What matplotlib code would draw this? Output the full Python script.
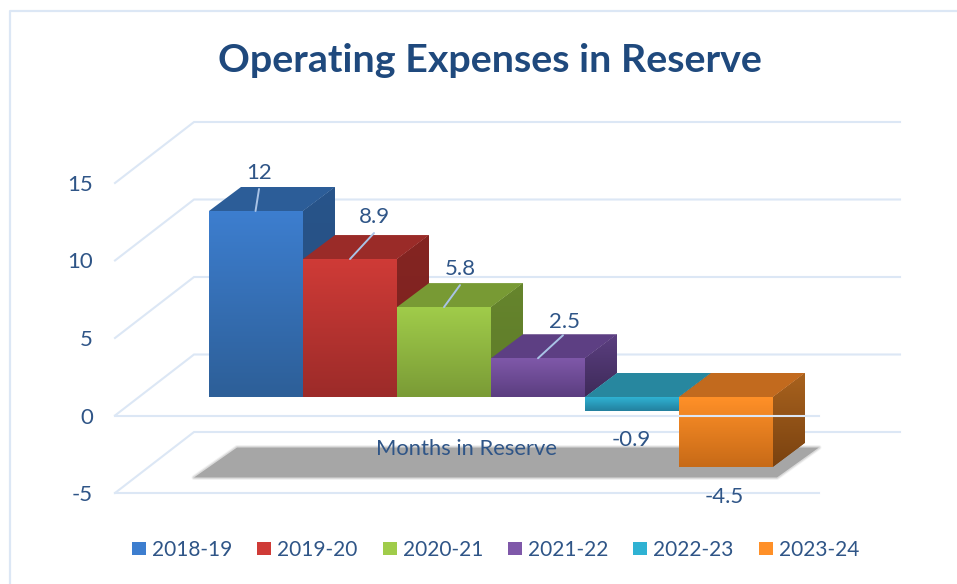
import numpy as np
import matplotlib
matplotlib.use("Agg")
import matplotlib.pyplot as plt
from matplotlib.colors import LinearSegmentedColormap
from matplotlib.patches import Polygon

# ---- data ----
categories = ["2018-19", "2019-20", "2020-21", "2021-22", "2022-23", "2023-24"]
values = [12, 8.9, 5.8, 2.5, -0.9, -4.5]
value_labels = ["12", "8.9", "5.8", "2.5", "-0.9", "-4.5"]
y_ticks = [-5, 0, 5, 10, 15]
axis_title = "Months in Reserve"
chart_title = "Operating Expenses in Reserve"

# ---- style ----
front_top = ["#3D7ECF", "#CF3B37", "#A0CC4A", "#7F58A9", "#2FB2D3", "#FF9028"]
front_bot = ["#2D5F98", "#9C2B29", "#7A9B36", "#5B3E80", "#23809E", "#C76A17"]
top_col = ["#2C5D98", "#9A2B28", "#789A34", "#5D3F83", "#27879F", "#C26A1E"]
side_top = ["#28548A", "#842522", "#66852D", "#5B3F80", "#1F6E85", "#A8621E"]
side_bot = ["#264E7E", "#7C211F", "#5E7B29", "#3E2A59", "#1A5C70", "#7A4210"]
TEXT = "#2F5587"
GRID = "#DCE7F5"
FONT = "Lato"

W, H = 957, 584
BAR_PX = 94.0
UNIT_PX = 15.5
X0, Y0 = 209.0, 397.0
DX, DY = 32.0, 24.0


def xd(px):
    return (px - X0) / BAR_PX


def yd(py):
    return (Y0 - py) / UNIT_PX


fig = plt.figure(figsize=(W / 100, H / 100), dpi=100, facecolor="white")
ax = fig.add_axes([0, 0, 1, 1])
ax.set_xlim(xd(0), xd(W))
ax.set_ylim(yd(H), yd(0))
ax.axis("off")


def gradient(poly, c1, c2, z):
    cmap = LinearSegmentedColormap.from_list("g", [c1, c2])
    xs, ys = zip(*poly.get_xy())
    im = ax.imshow(np.linspace(0, 1, 128)[:, None], cmap=cmap, aspect="auto",
                   extent=(min(xs), max(xs), min(ys), max(ys)), origin="upper",
                   zorder=z, interpolation="bilinear")
    im.set_clip_path(poly)


# outer chart border
ax.plot([xd(10.5), xd(10.5), xd(W)], [yd(H), yd(10.5), yd(10.5)], color=GRID, lw=1.6, zorder=0)

# 3-D wall grid (front plane sits below the bar plane)
FRONT_L, FRONT_R_FLOOR = 115, 819
BACK_L, BACK_R = 194, 900
front_drop = 18.5 / UNIT_PX
back_rise = 42.5 / UNIT_PX
for t in y_ticks:
    yf, yb = t - front_drop, t + back_rise
    ax.plot([xd(FRONT_L), xd(BACK_L), xd(BACK_R)], [yf, yb, yb], color=GRID, lw=1.5,
            zorder=1, solid_joinstyle="miter")
    ax.text(xd(93), yf - 2.0 / UNIT_PX, str(t), ha="right", va="center", color=TEXT, fontsize=16,
            family=FONT, zorder=8)
for t in (-5, 0):
    ax.plot([xd(FRONT_L), xd(FRONT_R_FLOOR)], [t - front_drop] * 2, color=GRID, lw=1.5, zorder=7)

# floor shadow
shadow = [(194, 477.5), (237, 447.5), (819, 447.5), (777, 477.5)]
shadow_xy = [(xd(p), yd(q)) for p, q in shadow]
for lw, a in ((3.5, .15), (2, .3)):
    ax.add_patch(Polygon(shadow_xy, closed=True, fc="none", ec="#A6A6A6", lw=lw, alpha=a,
                         joinstyle="round", zorder=1.5))
ax.add_patch(Polygon(shadow_xy, closed=True, fc="#A6A6A6", ec="none", zorder=1.6))

# bars
ddx, ddy = DX / BAR_PX, DY / UNIT_PX
for i, (c, v) in enumerate(zip(categories, values)):
    z = 2 + i * 0.1
    hi = max(v, 0)
    # side
    side = Polygon([(i + 1, hi), (i + 1 + ddx, hi + ddy), (i + 1 + ddx, min(v, 0) + ddy), (i + 1, min(v, 0))],
                   closed=True, fc=side_bot[i], ec="none", zorder=z)
    ax.add_patch(side)
    gradient(side, side_top[i], side_bot[i], z + 0.01)
    # top
    ax.add_patch(Polygon([(i, hi), (i + ddx, hi + ddy), (i + 1 + ddx, hi + ddy), (i + 1, hi)],
                         closed=True, fc=top_col[i], ec="none", zorder=z + 0.02))
    # front
    bar = ax.bar(i, v, width=1, align="edge", color=front_top[i], label=c, zorder=z + 0.03)[0]
    x0, y0 = bar.get_x(), min(v, 0)
    poly = Polygon([(x0, y0), (x0 + 1, y0), (x0 + 1, hi), (x0, hi)], closed=True,
                   fc="none", ec="none", transform=ax.transData, zorder=z + 0.03)
    ax.add_patch(poly)
    gradient(poly, front_top[i], front_bot[i], z + 0.04)

# value labels: anchor fraction along the bar, leader end offset, label offset (px)
anchors = [0.495, 0.5, 0.5, 0.5, 0.5, 0.48]
leader = [(3.5, 22), (24, 26), (16, 22), (25, 23), None, None]
label_off = [(3.5, 38), (24, 42), (16, 38), (26, 36), (-1, -29), (0, -30)]
for i, v in enumerate(values):
    xa = i + anchors[i]
    if leader[i]:
        ax.annotate("", xy=(xa, v), xytext=leader[i], textcoords="offset pixels",
                    arrowprops=dict(arrowstyle="-", color="#A9C3E6", lw=1.4, shrinkA=0, shrinkB=0),
                    zorder=6)
    ax.annotate(value_labels[i], xy=(xa, v), xytext=label_off[i], textcoords="offset pixels",
                ha="center", va="center", color=TEXT, fontsize=16, family=FONT, zorder=8)

# axis title
ax.text(xd(466), yd(449), axis_title, ha="center", va="center", color=TEXT, fontsize=15.8,
        family=FONT, zorder=8)

# chart title
ax.text(xd(490), yd(61), chart_title, ha="center", va="center", color="#1F497D", fontsize=28.4,
        fontweight="bold", family=FONT, zorder=8)

# legend
handles, labels = ax.get_legend_handles_labels()
leg = ax.legend(handles, labels, ncol=6, frameon=False, loc="center",
                bbox_to_anchor=(495.5 / W, 1 - 550 / H), bbox_transform=fig.transFigure,
                prop=dict(family=FONT, size=15), labelcolor=TEXT, handlelength=0.67, handleheight=0.6,
                handletextpad=0.29, columnspacing=1.2, borderpad=0, labelspacing=0)

fig.savefig("out.png", dpi=100, facecolor="white")
